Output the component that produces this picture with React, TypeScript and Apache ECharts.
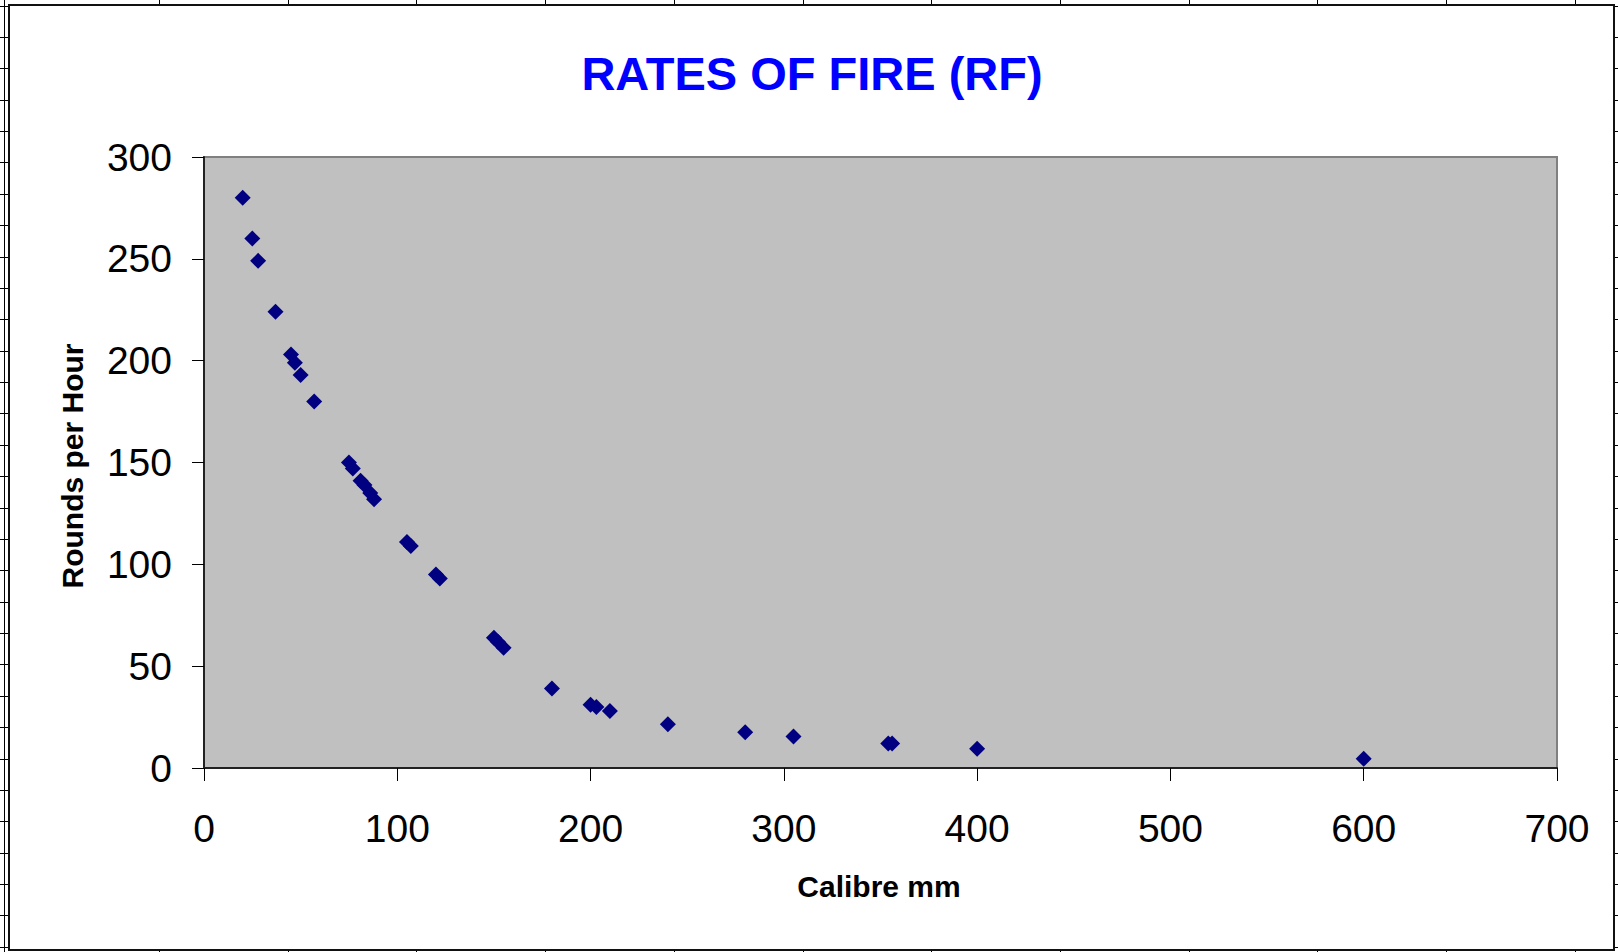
import React, { useEffect, useRef } from "react";
import * as echarts from "echarts";

const calibreMm = [20, 25, 28, 37, 45, 47, 50, 57, 75, 77, 81, 83, 86, 88, 105, 107, 120, 122, 150, 152, 155, 180, 200, 203, 210, 240, 280, 305, 354, 356, 400, 600];
const roundsPerHour = [280, 260, 249, 224, 203, 199, 193, 180, 150, 147, 141, 139, 135, 132, 111, 109, 95, 93, 64, 62, 59, 39, 31, 30, 28, 21.5, 17.5, 15.5, 12, 12, 9.5, 4.5];
const xTicks = [0, 100, 200, 300, 400, 500, 600, 700];
const yTicks = [0, 50, 100, 150, 200, 250, 300];

const titleText = "RATES OF FIRE (RF)";
const xName = "Calibre mm";
const yName = "Rounds per Hour";

const FONT = "'Liberation Sans', Arial, Helvetica, sans-serif";

export default function App() {
  const ref = useRef<HTMLDivElement>(null);

  useEffect(() => {
    if (!ref.current) return;
    const chart = echarts.init(ref.current, null, { renderer: "svg" });

    const W = 1618;
    const H = 952;
    const sheetLines: any[] = [];
    for (let k = -1; k <= 29; k++) {
      const y = Math.round(37 + 31.37 * k) + 0.5;
      sheetLines.push({
        type: "line",
        z: -20,
        shape: { x1: 0, y1: y, x2: W, y2: y },
        style: { stroke: "#000", lineWidth: 1 },
        silent: true,
      });
    }
    const vx = [4];
    for (let k = 0; k <= 11; k++) vx.push(Math.round(159 + 128.7 * k));
    vx.forEach((x) => {
      sheetLines.push({
        type: "line",
        z: -20,
        shape: { x1: x + 0.5, y1: 0, x2: x + 0.5, y2: H },
        style: { stroke: "#000", lineWidth: 1 },
        silent: true,
      });
    });

    const data = calibreMm.map((c, i) => [c, roundsPerHour[i]]);

    chart.setOption({
      animation: false,
      backgroundColor: "#fff",
      graphic: [
        ...sheetLines,
        {
          type: "rect",
          z: -10,
          shape: { x: 9, y: 5, width: 1605, height: 945 },
          style: { fill: "#fff", stroke: "#111", lineWidth: 2 },
          silent: true,
        },
        {
          type: "text",
          x: 812,
          y: 73,
          style: {
            text: titleText,
            fill: "#0000FF",
            font: `bold 47px ${FONT}`,
            textAlign: "center",
            textVerticalAlign: "middle",
          },
        },
        {
          type: "text",
          x: 879,
          y: 886,
          style: {
            text: xName,
            fill: "#000",
            font: `bold 30px ${FONT}`,
            textAlign: "center",
            textVerticalAlign: "middle",
          },
        },
        {
          type: "text",
          x: 72,
          y: 466,
          rotation: Math.PI / 2,
          style: {
            text: yName,
            fill: "#000",
            font: `bold 30px ${FONT}`,
            textAlign: "center",
            textVerticalAlign: "middle",
          },
        },
      ],
      grid: {
        left: 204,
        top: 157,
        width: 1353,
        height: 611,
        show: true,
        backgroundColor: "#C0C0C0",
        borderColor: "#808080",
        borderWidth: 2,
        outerBoundsMode: "none",
      },
      xAxis: {
        type: "value",
        min: xTicks[0],
        max: xTicks[xTicks.length - 1],
        interval: xTicks[1] - xTicks[0],
        axisLine: { show: true, onZero: false, lineStyle: { color: "#222", width: 2 } },
        axisTick: { show: true, inside: false, length: 13, lineStyle: { color: "#000", width: 1 } },
        axisLabel: { show: true, margin: 41, fontSize: 39, color: "#000", fontFamily: FONT },
        splitLine: { show: false },
      },
      yAxis: {
        type: "value",
        min: yTicks[0],
        max: yTicks[yTicks.length - 1],
        interval: yTicks[1] - yTicks[0],
        axisLine: { show: true, onZero: false, lineStyle: { color: "#222", width: 2 } },
        axisTick: { show: true, inside: false, length: 12, lineStyle: { color: "#000", width: 1 } },
        axisLabel: { show: true, margin: 32, fontSize: 39, color: "#000", fontFamily: FONT },
        splitLine: { show: false },
      },
      series: [
        {
          type: "scatter",
          data,
          symbol: "diamond",
          symbolSize: 16,
          itemStyle: { color: "#000080", opacity: 1 },
        },
      ],
    });

    return () => chart.dispose();
  }, []);

  return (
    <div
      ref={ref}
      style={{ position: "fixed", left: 0, top: 0, width: 1618, height: 952 }}
    />
  );
}
